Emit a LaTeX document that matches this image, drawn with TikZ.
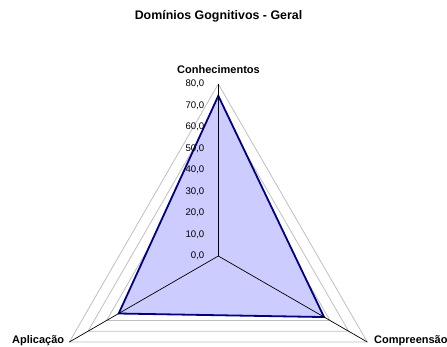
\documentclass[tikz,border=0pt]{standalone}
\usepackage{fontspec}
\setmainfont{Liberation Sans}
\usetikzlibrary{calc}
\begin{document}
\begin{tikzpicture}[x=1pt,y=1pt,
  grid/.style={draw=black!25,line width=0.8pt},
  axisline/.style={draw=black,line width=0.7pt},
  series/.style={draw=blue!50!black,line width=1.8pt,fill=blue!20,line join=miter},
  ticklab/.style={anchor=east,font=\fontsize{9.6}{10}\selectfont,inner sep=0pt},
  catlab/.style={font=\bfseries\fontsize{11}{12}\selectfont,inner sep=0pt}]
\useasboundingbox (0,0) rectangle (447,347);
\coordinate (C) at (218.3,91);
% gridlines
\foreach \k in {1,...,8}{
  \draw[grid] ($(C)+(90:{21.5*\k})$) -- ($(C)+(210:{21.5*\k})$) -- ($(C)+(330:{21.5*\k})$) -- cycle;
}
% data
\coordinate (dK) at ($(C)+(90:{21.5*7.45})$);
\coordinate (dA) at ($(C)+(210:{21.5*5.35})$);
\coordinate (dP) at ($(C)+(330:{21.5*5.68})$);
\draw[series] (dK) -- (dA) -- (dP) -- cycle;
% axes
\coordinate (eK) at ($(C)+(90:172)$);
\coordinate (eA) at ($(C)+(210:172)$);
\coordinate (eP) at ($(C)+(330:172)$);
\draw[axisline] (C) -- (eK);
\draw[axisline] (C) -- (eA);
\draw[axisline] (C) -- (eP);
% tick labels
\foreach \k in {0,...,8}{
  \pgfmathtruncatemacro{\v}{10*\k}
  \node[ticklab] (t\k) at (204.5,{91+21.5*\k}) {\v,0};
}
% labels
\node[catlab,font=\bfseries\fontsize{12.4}{13}\selectfont] (title) at (218.5,331) {Domínios Gognitivos - Geral};
\node[catlab] (lK) at (218.5,277) {Conhecimentos};
\node[catlab,anchor=west] (lA) at (12,6) {Aplicação};
\node[catlab,anchor=west] (lP) at (374,6) {Compreensão};
\end{tikzpicture}
\end{document}
